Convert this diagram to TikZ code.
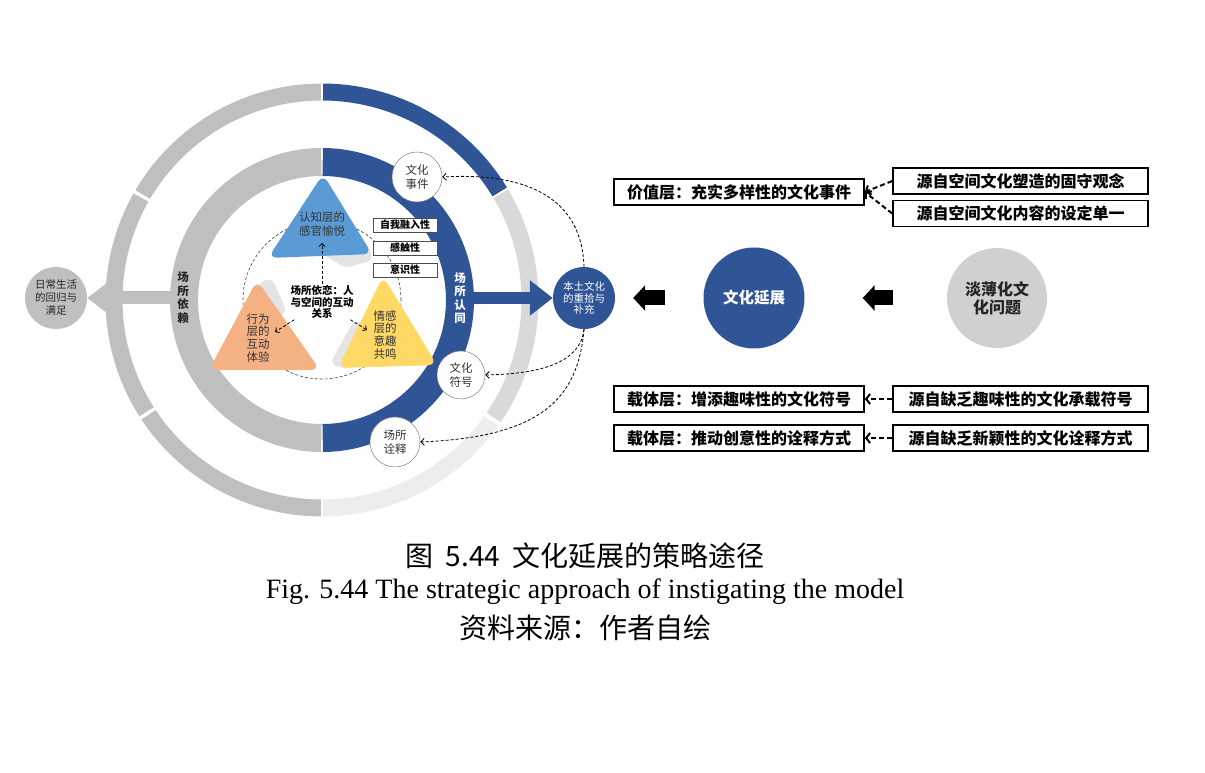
\documentclass[tikz,border=0pt]{standalone}
\usepackage{fontspec}
\setmainfont{Noto Sans CJK SC}
\newfontfamily\capserif{Liberation Serif}
\usetikzlibrary{arrows.meta}

\definecolor{ringblue}{HTML}{2F5597}
\definecolor{ringgray}{HTML}{BFBFBF}
\definecolor{palegray}{HTML}{D9D9D9}
\definecolor{palergray}{HTML}{EDEDED}
\definecolor{triblue}{HTML}{5B9BD5}
\definecolor{triorange}{HTML}{F4B183}
\definecolor{triyellow}{HTML}{FFD966}
\definecolor{trishade}{HTML}{E4E4E4}
\definecolor{issuegray}{HTML}{D0D0D0}

\tikzset{
  ringseg/.style={line width=17pt},
  trilabel/.style={align=center, text=black!80, inner sep=0pt},
  ringlabel/.style={align=center, inner sep=0pt, font=\bfseries\fontsize{11.5}{13.5}\selectfont},
  smallcirc/.style={circle, draw=black!50, line width=0.5pt, fill=white, minimum size=50pt, inner sep=0pt, align=center, text=black!80, font=\fontsize{11.5}{13.5}\selectfont},
  tagbox/.style={draw=black!70, line width=0.6pt, fill=white, minimum width=64pt, minimum height=14pt, inner sep=0pt, font=\bfseries\fontsize{10}{10}\selectfont},
  layerbox/.style={draw, line width=1.6pt, fill=white, minimum width=250pt, minimum height=26pt, inner sep=0pt, font=\bfseries\fontsize{16}{18}\selectfont},
  srcbox/.style={layerbox, minimum width=255pt},
  smalldash/.style={densely dashed, line width=0.8pt, -{Straight Barb[length=3pt,width=6pt]}},
  dashlink/.style={densely dashed, line width=0.8pt, -{Straight Barb[length=3.5pt,width=7pt]}},
  bolddash/.style={dash pattern=on 5pt off 3pt, line width=2pt, -{Straight Barb[length=4pt,width=10pt]}},
  blockarrow/.style={line width=15pt, -{Triangle[length=12pt,width=25pt]}}
}

\begin{document}
\begin{tikzpicture}[x=1pt, y=1pt]
  \useasboundingbox (0,0) rectangle (1205,772);
  \coordinate (C) at (322,472);

  % Outer ring
  \draw[ringseg, ringblue] ([shift={(31.3:208)}]C) arc[start angle=31.3, end angle=89.7, radius=208];
  \draw[ringseg, ringgray] ([shift={(90.3:208)}]C) arc[start angle=90.3, end angle=149.5, radius=208];
  \draw[ringseg, ringgray] ([shift={(150.5:208)}]C) arc[start angle=150.5, end angle=212.5, radius=208];
  \draw[ringseg, ringgray] ([shift={(213.5:208)}]C) arc[start angle=213.5, end angle=269.7, radius=208];
  \draw[ringseg, palergray] ([shift={(270.3:208)}]C) arc[start angle=270.3, end angle=324.4, radius=208];
  \draw[ringseg, palegray] ([shift={(325.6:208)}]C) arc[start angle=325.6, end angle=390.7, radius=208];

  % Inner ring
  \draw[line width=28pt, ringgray] ([shift={(90.3:138)}]C) arc[start angle=90.3, end angle=269.7, radius=138];
  \draw[line width=28pt, ringblue] ([shift={(-89.7:138)}]C) arc[start angle=-89.7, end angle=89.7, radius=138];

  % Dashed circle round the three layers
  \draw[densely dashed, black!75, line width=0.6pt] (C) circle[radius=79];

  % Shadows of the layers
  \fill[trishade, rounded corners=6pt] (318,521) -- (368,528) -- (373,512) -- (345,504) -- cycle;
  \fill[trishade, rounded corners=6pt] (258,489) -- (272,494) -- (287,460) -- (271,452) -- cycle;
  \fill[trishade, rounded corners=6pt] (330,408) -- (350,402) -- (364,448) -- (354,452) -- cycle;

  % Three layers
  \fill[triblue, rounded corners=9pt] (323,598) -- (268,514) -- (372,518) -- cycle;
  \fill[triorange, rounded corners=9pt] (257,492) -- (209,402) -- (320,402) -- cycle;
  \fill[triyellow, rounded corners=9pt] (383,496) -- (338,404) -- (437,407) -- cycle;
  \node[trilabel, font=\fontsize{11.5}{14}\selectfont] (cognitive) at (322,548) {认知层的\\感官愉悦};
  \node[trilabel, font=\fontsize{11.5}{12.8}\selectfont] (behavior) at (258,434) {行为\\层的\\互动\\体验};
  \node[trilabel, font=\fontsize{11.5}{12.8}\selectfont] (emotion) at (385,437) {情感\\层的\\意趣\\共鸣};

  % Tags on the dashed circle
  \node[tagbox] (selftag) at (405,547) {自我融入性};
  \node[tagbox] (touchtag) at (405,524) {感触性};
  \node[tagbox] (awaretag) at (405,502) {意识性};

  % Place attachment
  \node[align=center, inner sep=1pt, font=\bfseries\fontsize{10.5}{11.5}\selectfont] (attach) at (322,470) {场所依恋：人\\与空间的互动\\关系};
  \coordinate (cogtip) at (322,529);
  \coordinate (behtip) at (275,440);
  \coordinate (emotip) at (367,442);
  \draw[smalldash] (attach) -- (cogtip);
  \draw[smalldash] (attach) -- (behtip);
  \draw[smalldash] (attach) -- (emotip);

  % Ring labels
  \node[ringlabel, text=white] (identity) at (460,474) {场\\所\\认\\同};
  \node[ringlabel, text=black!85] (depend) at (183,474) {场\\所\\依\\赖};

  % Outcome circles
  \node[circle, fill=ringblue, minimum size=62pt, inner sep=0pt, align=center, text=white, font=\fontsize{10.5}{11.7}\selectfont] (recover) at (584,474) {本土文化\\的重拾与\\补充};
  \node[circle, fill=ringgray, minimum size=62pt, inner sep=0pt, align=center, text=black!85, font=\fontsize{10.5}{13}\selectfont] (daily) at (56,474) {日常生活\\的回归与\\满足};

  % Block arrows out of the inner ring
  \coordinate (identedge) at (470,474);
  \coordinate (dependedge) at (174,474);
  \draw[ringblue, line width=12pt, -{Triangle[length=23pt,width=34pt]}] (identedge) -- (recover);
  \draw[ringgray, line width=13pt, -{Triangle[length=22pt,width=32pt]}] (dependedge) -- (daily);

  % Circles on the ring
  \node[smallcirc] (event) at (417,595) {文化\\事件};
  \node[smallcirc, minimum size=48pt] (symbol) at (461,397) {文化\\符号};
  \node[smallcirc] (interp) at (395,330) {场所\\诠释};
  \draw[dashlink] (recover.north) .. controls (582,572) and (530,600) .. (event.east);
  \draw[dashlink] (recover.south) .. controls (580,405) and (530,398) .. (symbol.east);
  \draw[dashlink] (recover.south) .. controls (578,372) and (540,335) .. (interp.east);

  % Culture extension
  \node[circle, fill=ringblue, minimum size=101pt, inner sep=0pt, text=white, font=\bfseries\fontsize{15.5}{18}\selectfont] (extend) at (754,474) {文化延展};
  \node[circle, fill=issuegray, minimum size=100pt, inner sep=0pt, align=center, text=black!85, font=\bfseries\fontsize{16}{18}\selectfont] (issue) at (997,474) {淡薄化文\\化问题};
  \draw[blockarrow, shorten <=38pt, shorten >=18pt] (extend) -- (recover);
  \draw[blockarrow, shorten <=54pt, shorten >=58pt] (issue) -- (extend);

  % Layers and sources
  \node[layerbox] (valuebox) at (739,580) {价值层：充实多样性的文化事件};
  \node[srcbox] (srcfixed) at (1020.5,591) {源自空间文化塑造的固守观念};
  \node[srcbox] (srcsingle) at (1020.5,558.5) {源自空间文化内容的设定单一};
  \draw[bolddash] (srcfixed.west) -- (valuebox.east);
  \draw[bolddash] (srcsingle.west) -- (valuebox.east);

  \node[layerbox] (carrierfun) at (739,373) {载体层：增添趣味性的文化符号};
  \node[srcbox] (srcfun) at (1020.5,373) {源自缺乏趣味性的文化承载符号};
  \draw[bolddash] (srcfun) -- (carrierfun);

  \node[layerbox] (carriernew) at (739,334) {载体层：推动创意性的诠释方式};
  \node[srcbox] (srcnew) at (1020.5,334) {源自缺乏新颖性的文化诠释方式};
  \draw[bolddash] (srcnew) -- (carriernew);

  % Caption
  \node[font=\fontsize{28}{30}\selectfont] (figtitle) at (585,216) {图\hspace{12pt}5.44\hspace{12pt}文化延展的策略途径};
  \node[font=\capserif\fontsize{28}{30}\selectfont] (figeng) at (585,180) {Fig. 5.44 The strategic approach of instigating the model};
  \node[font=\fontsize{28}{30}\selectfont] (figsrc) at (585,144) {资料来源：作者自绘};
\end{tikzpicture}
\end{document}
